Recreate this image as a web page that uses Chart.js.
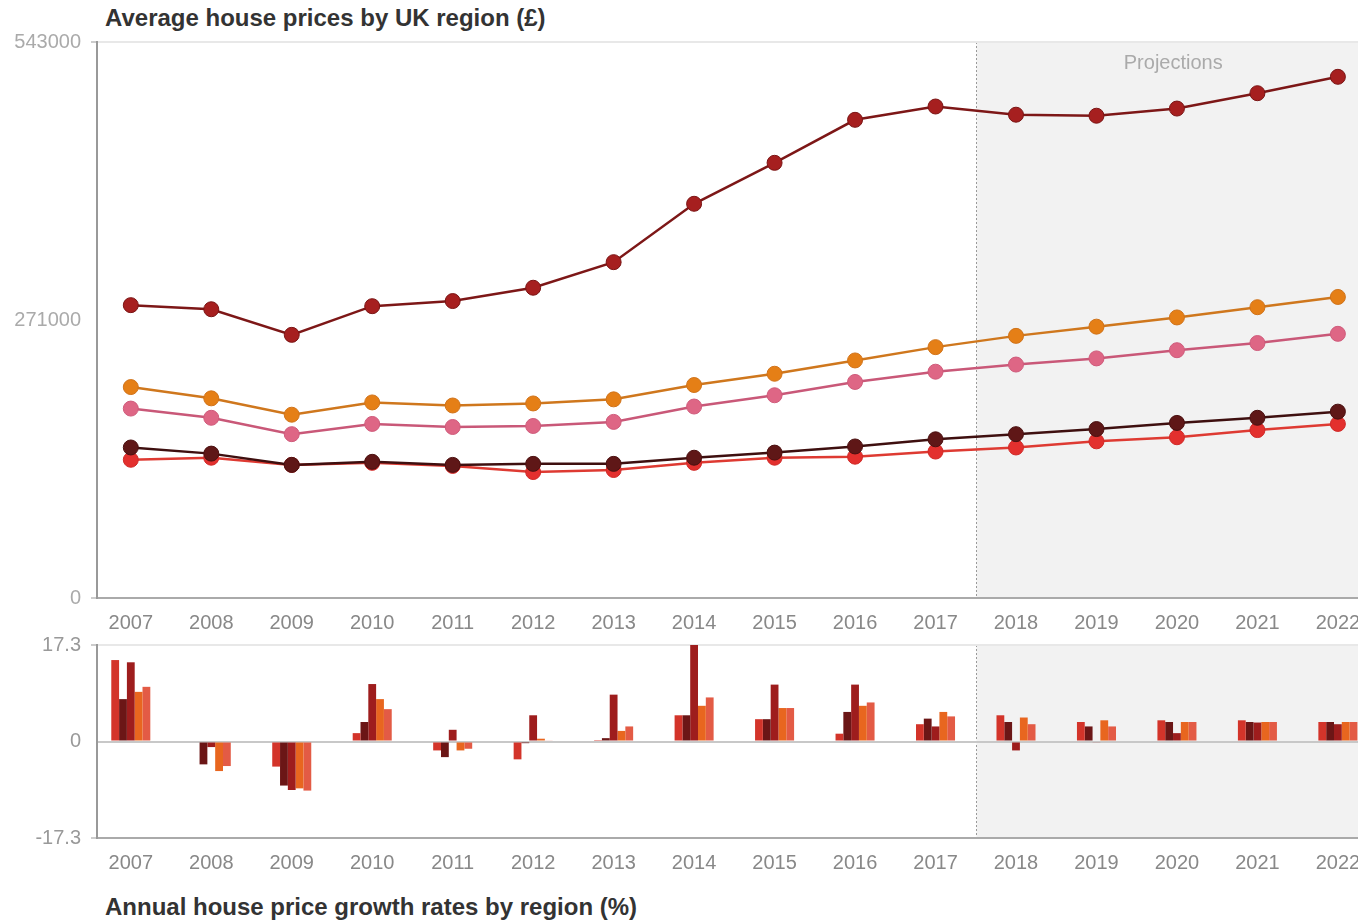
<!DOCTYPE html>
<html>
<head>
<meta charset="utf-8">
<title>UK house prices</title>
<script src="https://cdn.jsdelivr.net/npm/chart.js@4.4.0/dist/chart.umd.min.js"></script>
<style>
  body { margin: 0; background: #fff; width: 1358px; height: 921px; overflow: hidden; position: relative; font-family: "Liberation Sans", Arial, sans-serif; }
  .title { position: absolute; left: 105px; font-weight: bold; font-size: 24px; line-height: 28px; color: #333; white-space: nowrap; }
  #priceChart { position: absolute; left: 0; top: 0; }
  #growthChart { position: absolute; left: 0; top: 620px; }
</style>
</head>
<body>
<div class="title" style="top:4px">Average house prices by UK region (£)</div>
<canvas id="priceChart" width="1358" height="640"></canvas>
<canvas id="growthChart" width="1358" height="260"></canvas>
<div class="title" style="top:893px">Annual house price growth rates by region (%)</div>

<script>
// years on the x axis, projections start after 2017
const years = [2007, 2008, 2009, 2010, 2011, 2012, 2013, 2014, 2015, 2016, 2017, 2018, 2019, 2020, 2021, 2022];
const projectionStart = 2017.5;

// average prices (£)
const priceDarkRed = [286000, 282000, 257000, 285000, 290000, 303000, 328000, 385000, 425000, 467000, 480000, 472000, 471000, 478000, 493000, 509000];
const priceOrange  = [206000, 195000, 179000, 191000, 188000, 190000, 194000, 208000, 219000, 232000, 245000, 256000, 265000, 274000, 284000, 294000];
const pricePink    = [185000, 176000, 160000, 170000, 167000, 168000, 172000, 187000, 198000, 211000, 221000, 228000, 234000, 242000, 249000, 258000];
const priceMaroon  = [147000, 141000, 130000, 133000, 130000, 131000, 131000, 137000, 142000, 148000, 155000, 160000, 165000, 171000, 176000, 182000];
const priceRed     = [135000, 137000, 130000, 132000, 129000, 123000, 125000, 132000, 137000, 138000, 143000, 147000, 153000, 157000, 164000, 170000];

// annual growth (%), bottom panel, bars left to right in each year
const growthRed     = [14.6,  0.0, -4.5,  1.5, -1.6, -3.2, 0.1,  4.7,  4.0,  1.4, 3.1, 4.7,  3.5, 3.8, 3.8, 3.5];
const growthMaroon  = [ 7.6, -4.1, -7.9,  3.5, -2.8, -0.3, 0.6,  4.7,  4.0,  5.3, 4.1, 3.5,  2.7, 3.5, 3.5, 3.5];
const growthDarkRed = [14.2, -1.0, -8.7, 10.3,  2.1,  4.7, 8.4, 17.5, 10.2, 10.2, 2.7, -1.6, -0.2, 1.5, 3.4, 3.1];
const growthOrange  = [ 8.9, -5.3, -8.4,  7.6, -1.6,  0.5, 1.9,  6.4,  6.0,  6.4, 5.3, 4.3,  3.8, 3.5, 3.5, 3.5];
const growthPink    = [ 9.8, -4.4, -8.8,  5.8, -1.3,  0.2, 2.7,  7.9,  6.0,  7.0, 4.5, 3.1,  2.7, 3.5, 3.5, 3.5];

const priceTicks = [0, 271000, 543000];
const growthTicks = [-17.3, 0, 17.3];

const FONT = '"Liberation Sans", Arial, sans-serif';

function pairs(values) {
  return years.map((yr, i) => ({ x: yr, y: values[i] }));
}

// grey box + dotted divider behind the projected years
const projectionShade = {
  id: 'projectionShade',
  beforeDraw(chart, args, opts) {
    const { ctx, chartArea, scales } = chart;
    const x0 = Math.round(scales.x.getPixelForValue(projectionStart)) + 0.5;
    ctx.save();
    ctx.fillStyle = '#f2f2f2';
    ctx.fillRect(x0, chartArea.top, chartArea.right - x0, chartArea.bottom - chartArea.top);
    ctx.strokeStyle = '#999';
    ctx.lineWidth = 1;
    ctx.setLineDash([2, 2]);
    ctx.beginPath();
    ctx.moveTo(x0, chartArea.top);
    ctx.lineTo(x0, chartArea.bottom);
    ctx.stroke();
    if (opts.label) {
      ctx.setLineDash([]);
      ctx.fillStyle = '#aaa';
      ctx.font = '20px ' + FONT;
      ctx.textAlign = 'center';
      ctx.textBaseline = 'middle';
      ctx.fillText(opts.label, (x0 + chartArea.right) / 2 + 6, chartArea.top + 21);
    }
    ctx.restore();
  }
};

function yearAxis() {
  return {
    type: 'linear',
    offset: false,
    min: 2006.58,
    max: 2022.25,
    afterBuildTicks: (scale) => { scale.ticks = years.map(v => ({ value: v })); },
    afterFit: (scale) => { scale.height = 42; scale.paddingLeft = 0; scale.paddingRight = 0; },
    grid: { display: false, offset: false },
    border: { color: '#aaa', width: 2 },
    ticks: {
      autoSkip: false, maxRotation: 0, padding: 5,
      color: '#888', font: { size: 20, family: FONT },
      callback: (v) => String(v)
    }
  };
}

new Chart(document.getElementById('priceChart'), {
  type: 'line',
  plugins: [projectionShade],
  data: {
    datasets: [
      { data: pairs(priceDarkRed), borderColor: '#7d1717', pointBackgroundColor: '#a61f1f', pointBorderColor: '#7a1414' },
      { data: pairs(priceOrange),  borderColor: '#cf771d', pointBackgroundColor: '#e57f16', pointBorderColor: '#d0731a' },
      { data: pairs(pricePink),    borderColor: '#c95878', pointBackgroundColor: '#de6685', pointBorderColor: '#cf5b7b' },
      { data: pairs(priceMaroon),  borderColor: '#3e0f0f', pointBackgroundColor: '#5f1717', pointBorderColor: '#4a1010' },
      { data: pairs(priceRed),     borderColor: '#de3a32', pointBackgroundColor: '#e3302e', pointBorderColor: '#d02a28' }
    ].map(d => Object.assign({ borderWidth: 2.5, pointRadius: 7.5, pointBorderWidth: 1, tension: 0 }, d))
  },
  options: {
    responsive: false,
    animation: false,
    layout: { autoPadding: false, padding: { top: 42, left: 0, right: 0, bottom: 0 } },
    plugins: {
      legend: { display: false },
      tooltip: { enabled: false },
      projectionShade: { label: 'Projections' }
    },
    scales: {
      x: yearAxis(),
      y: {
        min: 0,
        max: 543000,
        afterBuildTicks: (scale) => { scale.ticks = priceTicks.map(v => ({ value: v })); },
        afterFit: (scale) => { scale.width = 97; },
        grid: {
          lineWidth: 2,
          color: (c) => (c.tick && c.tick.value === 543000 ? '#e8e8e8' : 'rgba(0,0,0,0)'),
          tickColor: (c) => (c.tick && c.tick.value === 271000 ? 'rgba(0,0,0,0)' : '#999'),
          tickLength: 6,
          tickWidth: 1
        },
        border: { color: '#999', width: 2 },
        ticks: { color: '#aaa', padding: 10, font: { size: 20, family: FONT }, callback: (v) => String(v) }
      }
    }
  }
});

new Chart(document.getElementById('growthChart'), {
  type: 'bar',
  plugins: [projectionShade],
  data: {
    datasets: [
      { data: pairs(growthRed),     backgroundColor: '#d3342a' },
      { data: pairs(growthMaroon),  backgroundColor: '#6b1616' },
      { data: pairs(growthDarkRed), backgroundColor: '#9e1d1d' },
      { data: pairs(growthOrange),  backgroundColor: '#e8661f' },
      { data: pairs(growthPink),    backgroundColor: '#e35b45' }
    ].map(d => Object.assign({ categoryPercentage: 0.485, barPercentage: 1.0, borderWidth: 0 }, d))
  },
  options: {
    responsive: false,
    animation: false,
    layout: { autoPadding: false, padding: { top: 25, left: 0, right: 0, bottom: 0 } },
    plugins: {
      legend: { display: false },
      tooltip: { enabled: false },
      projectionShade: { label: '' }
    },
    scales: {
      x: yearAxis(),
      y: {
        min: -17.3,
        max: 17.3,
        afterBuildTicks: (scale) => { scale.ticks = growthTicks.map(v => ({ value: v })); },
        afterFit: (scale) => { scale.width = 97; },
        grid: {
          lineWidth: 2,
          color: (c) => {
            if (!c.tick) return 'rgba(0,0,0,0)';
            if (c.tick.value === 17.3) return '#e8e8e8';
            if (c.tick.value === 0) return '#c8c8c8';
            return 'rgba(0,0,0,0)';
          },
          tickColor: (c) => (c.tick && c.tick.value === 0 ? 'rgba(0,0,0,0)' : '#999'),
          tickLength: 6,
          tickWidth: 1
        },
        border: { color: '#999', width: 2 },
        ticks: { color: '#999', padding: 10, font: { size: 20, family: FONT }, callback: (v) => String(v) }
      }
    }
  }
});
</script>
</body>
</html>
